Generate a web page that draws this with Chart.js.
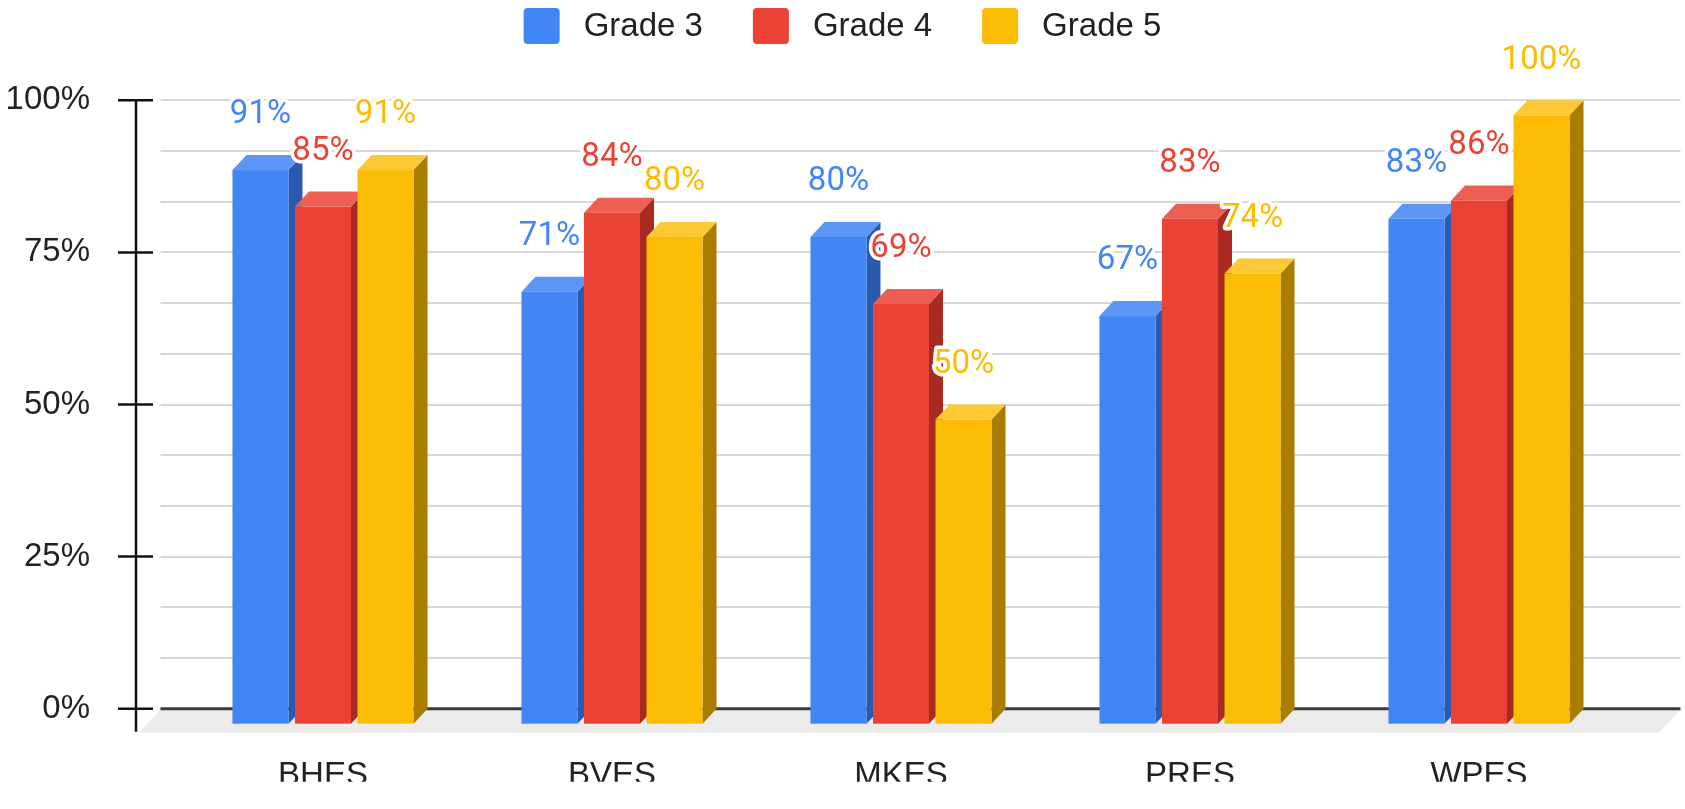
<!DOCTYPE html>
<html>
<head>
<meta charset="utf-8">
<script src="https://cdn.jsdelivr.net/npm/chart.js@4.4.1/dist/chart.umd.min.js"></script>
<style>
  html, body { margin: 0; padding: 0; background: #fff; overflow: hidden; }
  canvas { display: block; }
</style>
</head>
<body>
<canvas id="grades" width="1685" height="809"></canvas>
<script>
const schools = ['BHES', 'BVES', 'MKES', 'PRES', 'WPES'];
const grade3 = [91, 71, 80, 67, 83];
const grade4 = [85, 84, 69, 83, 86];
const grade5 = [91, 80, 50, 74, 100];
const seriesNames = ['Grade 3', 'Grade 4', 'Grade 5'];
const yTicks = [0, 25, 50, 75, 100];

// face colours: front, top, side
const frontColors = ['#4285f4', '#ea4335', '#fbbc04'];
const topColors = ['#5d96f6', '#ee5f53', '#fcc834'];
const sideColors = ['#2b5bb0', '#a82a20', '#a87d00'];

const axisFont = { family: '"Liberation Sans", Arial, sans-serif', size: 33 };
const DX = 14, DY = 15;   // fake depth of the bars

function isMajor(v) {
  return yTicks.some(t => Math.abs(t - v) < 1e-6);
}

const fakeDepth = {
  id: 'fakeDepth',
  beforeDatasetsDraw(chart) {
    const { ctx, chartArea: a, scales: { y } } = chart;
    const gl = a.left - 18, gr = a.right + 57;
    const y0 = y.getPixelForValue(0);
    ctx.save();

    // back wall grid
    ctx.strokeStyle = '#d8d8d8';
    ctx.lineWidth = 2;
    y.ticks.forEach(t => {
      if (t.value === 0) return;
      const py = Math.round(y.getPixelForValue(t.value));
      ctx.beginPath(); ctx.moveTo(gl, py); ctx.lineTo(gr, py); ctx.stroke();
    });

    // floor
    ctx.fillStyle = '#ebebeb';
    ctx.beginPath();
    ctx.moveTo(gl, y0 + 1); ctx.lineTo(gr, y0 + 1);
    ctx.lineTo(gr - 22, y0 + 24); ctx.lineTo(gl - 22, y0 + 24);
    ctx.closePath(); ctx.fill();

    ctx.strokeStyle = '#3a3a3a';
    ctx.lineWidth = 3;
    ctx.beginPath(); ctx.moveTo(gl, y0); ctx.lineTo(gr, y0); ctx.stroke();

    // y axis with crossing ticks
    const ax = a.left - 42.5;
    ctx.strokeStyle = '#111';
    ctx.lineWidth = 2.5;
    ctx.beginPath(); ctx.moveTo(ax, a.top); ctx.lineTo(ax, y0 + 23); ctx.stroke();
    yTicks.forEach(v => {
      const py = y.getPixelForValue(v);
      ctx.beginPath(); ctx.moveTo(ax - 18, py); ctx.lineTo(ax + 17, py); ctx.stroke();
    });

    // boxes, left to right so each one covers its neighbour's side
    schools.forEach((_, i) => {
      chart.data.datasets.forEach((ds, d) => {
        const el = chart.getDatasetMeta(d).data[i];
        const { x, y: ty, base, width } = el.getProps(['x', 'y', 'base', 'width'], true);
        const l = x - width / 2, r = x + width / 2;
        const t = ty + DY, b = base + DY;
        ctx.fillStyle = sideColors[d];
        ctx.beginPath();
        ctx.moveTo(r, t); ctx.lineTo(r + DX, t - DY); ctx.lineTo(r + DX, b - DY); ctx.lineTo(r, b);
        ctx.closePath(); ctx.fill();
        ctx.fillStyle = topColors[d];
        ctx.beginPath();
        ctx.moveTo(l, t); ctx.lineTo(l + DX, t - DY); ctx.lineTo(r + DX, t - DY); ctx.lineTo(r, t);
        ctx.closePath(); ctx.fill();
        ctx.fillStyle = frontColors[d];
        ctx.fillRect(l, t, width, b - t);
      });
    });
    ctx.restore();
    return false;
  },
  afterDraw(chart) {
    const ctx = chart.ctx;
    ctx.save();
    // value labels
    ctx.font = '33px Roboto, sans-serif';
    ctx.textAlign = 'center';
    ctx.textBaseline = 'middle';
    ctx.lineJoin = 'round';
    chart.data.datasets.forEach((ds, d) => {
      chart.getDatasetMeta(d).data.forEach((el, i) => {
        const txt = ds.data[i] + '%';
        ctx.strokeStyle = '#fff';
        ctx.lineWidth = 7;
        ctx.strokeText(txt, el.x, el.y - 40);
        ctx.fillStyle = frontColors[d];
        ctx.fillText(txt, el.x, el.y - 40);
      });
    });

    // legend
    ctx.font = '33px "Liberation Sans", Arial, sans-serif';
    ctx.textAlign = 'left';
    const box = 36, gap = 24, itemGap = 50;
    const widths = seriesNames.map(n => ctx.measureText(n).width);
    const total = widths.reduce((s, w) => s + box + gap + w, 0) + itemGap * (seriesNames.length - 1);
    let cx = chart.width / 2 - total / 2;
    seriesNames.forEach((n, d) => {
      ctx.fillStyle = frontColors[d];
      ctx.beginPath();
      ctx.roundRect(cx, 8, box, box, 4);
      ctx.fill();
      ctx.fillStyle = '#222';
      ctx.fillText(n, cx + box + gap, 27);
      cx += box + gap + widths[d] + itemGap;
    });
    ctx.restore();
  }
};

new Chart(document.getElementById('grades'), {
  type: 'bar',
  data: {
    labels: schools,
    datasets: [
      { label: seriesNames[0], data: grade3, backgroundColor: frontColors[0] },
      { label: seriesNames[1], data: grade4, backgroundColor: frontColors[1] },
      { label: seriesNames[2], data: grade5, backgroundColor: frontColors[2] },
    ],
  },
  options: {
    responsive: false,
    animation: false,
    datasets: {
      bar: { categoryPercentage: 0.649, barPercentage: 0.896 },
    },
    layout: { padding: { top: 99, right: 61.5, bottom: 0, left: 0 } },
    plugins: {
      legend: { display: false },
      tooltip: { enabled: false },
    },
    scales: {
      x: {
        grid: { display: false },
        border: { display: false },
        ticks: { font: axisFont, color: '#222', padding: 39 },
        afterFit(s) { s.height = 73; },
      },
      y: {
        min: 0,
        max: 100,
        grid: { display: false },
        border: { display: false },
        afterBuildTicks(s) {
          const t = [];
          for (let i = 0; i < yTicks.length - 1; i++) {
            for (let k = 0; k < 3; k++) t.push({ value: yTicks[i] + (yTicks[i + 1] - yTicks[i]) * k / 3 });
          }
          t.push({ value: yTicks[yTicks.length - 1] });
          s.ticks = t;
        },
        ticks: {
          font: axisFont,
          color: '#222',
          padding: 80.5,
          autoSkip: false,
          callback: v => (isMajor(v) ? Math.round(v) + '%' : ''),
        },
        afterFit(s) { s.width = 178.5; },
      },
    },
  },
  plugins: [fakeDepth],
});
</script>
</body>
</html>
